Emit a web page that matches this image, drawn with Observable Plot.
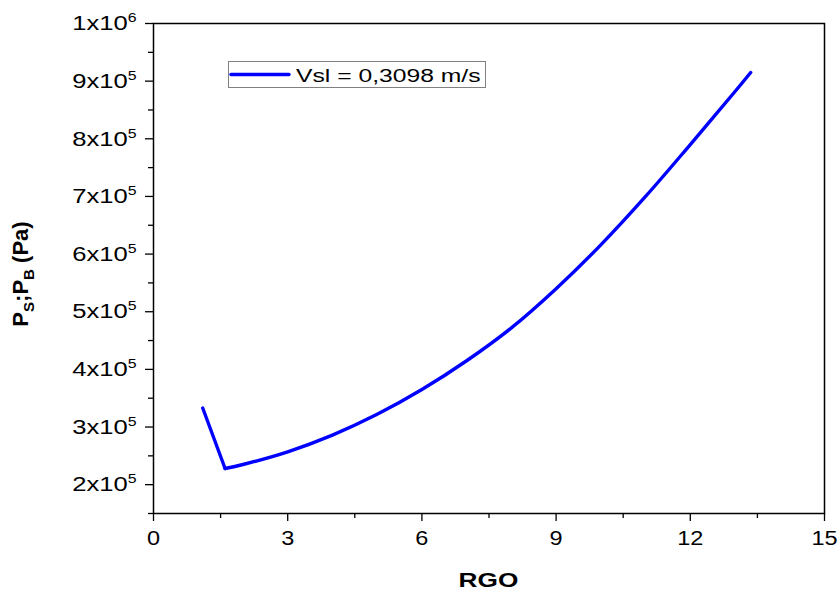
<!DOCTYPE html>
<html><head><meta charset="utf-8">
<script src="https://cdn.jsdelivr.net/npm/d3@7"></script>
<script src="https://cdn.jsdelivr.net/npm/@observablehq/plot@0.6"></script>
<style>
html,body{margin:0;padding:0;background:#fff;}
#chart{width:839px;height:592px;}
</style></head>
<body><div id="chart"></div>
<script>
// ---- data ----
const rgo      = [1.1, 1.6, 2, 3, 4, 5, 6, 7, 8, 9, 10, 11, 12, 13, 13.35];
const pressure = [333000, 228000, 235000, 257000, 286000, 322000, 365000, 415000, 472000, 540000, 616000, 700000, 790000, 882000, 915000];
const seriesLabel = "Vsl = 0,3098 m/s";
const xTicks = [0, 3, 6, 9, 12, 15];
const xMinorTicks = [1.5, 4.5, 7.5, 10.5, 13.5];
const yTicks = [200000, 300000, 400000, 500000, 600000, 700000, 800000, 900000, 1000000];
const yMinorTicks = [150000, 250000, 350000, 450000, 550000, 650000, 750000, 850000, 950000];
const xLabel = "RGO";
const yLabelParts = [["P", ""], ["S", "sub"], [";", ""], ["P", ""], ["B", "sub"], [" (Pa)", ""]];

// two branches so the kink at the minimum stays sharp
const rows = [];
rgo.forEach((x, i) => {
  if (i <= 1) rows.push({rgo: x, p: pressure[i], branch: "a"});
  if (i >= 1) rows.push({rgo: x, p: pressure[i], branch: "b"});
});

const sciFmt = d => {
  const e = Math.floor(Math.log10(d) + 1e-9);
  const m = Math.round(d / Math.pow(10, e));
  return `${m}x10^${e}`;
};

const FONT = '"Liberation Sans", Arial, Helvetica, sans-serif';

const plot = Plot.plot({
  width: 839, height: 592,
  marginLeft: 153, marginRight: 15, marginTop: 23, marginBottom: 79,
  x: {domain: [0, 15]},
  y: {domain: [150000, 1000000]},
  style: {fontFamily: FONT, fontSize: "21px", color: "black", background: "white", overflow: "visible"},
  marks: [
    Plot.axisX({ticks: xTicks, tickSize: 8, tickPadding: 9, label: null, strokeWidth: 1.3, fontSize: 21}),
    Plot.axisX({ticks: xMinorTicks, tickSize: 5, tickFormat: () => "", label: null, strokeWidth: 1.3}),
    Plot.axisY({ticks: yTicks, tickSize: 8, tickPadding: 9, tickFormat: sciFmt, label: null, strokeWidth: 1.3, fontSize: 21}),
    Plot.axisY({ticks: yMinorTicks, tickSize: 5, tickFormat: () => "", label: null, strokeWidth: 1.3}),
    Plot.frame({stroke: "black", strokeWidth: 1.5}),
    Plot.line(rows, {x: "rgo", y: "p", z: "branch", stroke: "#0000ff", strokeWidth: 3.4, curve: "catmull-rom", strokeLinecap: "round", strokeLinejoin: "round"})
  ]
});
document.getElementById("chart").appendChild(plot);

const svg = d3.select(plot);

function stretch(sel, sx) {
  sel.each(function() {
    const t = this.getAttribute("transform");
    if (t) {
      this.setAttribute("transform", t + ` scale(${sx},1)`);
    } else {
      const x = +(this.getAttribute("x") || 0), y = +(this.getAttribute("y") || 0);
      this.setAttribute("x", 0); this.setAttribute("y", 0);
      this.setAttribute("transform", `translate(${x},${y}) scale(${sx},1)`);
    }
  });
}

// superscripts on y tick labels
svg.selectAll('g[aria-label="y-axis tick label"] text').each(function() {
  const s = this.textContent;
  if (!s.includes("^")) return;
  const [base, exp] = s.split("^");
  const t = d3.select(this);
  t.text(null);
  t.append("tspan").text(base);
  t.append("tspan").attr("font-size", 13).attr("dy", -8).text(exp);
});
stretch(svg.selectAll('g[aria-label="y-axis tick label"] text'), 1.22);
stretch(svg.selectAll('g[aria-label="x-axis tick label"] text'), 1.12);

// x-axis title
svg.append("text")
  .attr("transform", "translate(488.5,587) scale(1.25,1)")
  .attr("text-anchor", "middle")
  .attr("font-weight", "bold").attr("font-size", 21)
  .attr("fill", "black")
  .text(xLabel);

// y-axis title
const yl = svg.append("text")
  .attr("transform", "translate(27.5,274) rotate(-90)")
  .attr("text-anchor", "middle")
  .attr("font-weight", "bold").attr("font-size", 22)
  .attr("fill", "black");
let shifted = false;
yLabelParts.forEach(([txt, kind]) => {
  const ts = yl.append("tspan").text(txt);
  if (kind === "sub") { ts.attr("font-size", 15).attr("dy", 6); shifted = true; }
  else if (shifted) { ts.attr("dy", -6); shifted = false; }
});

// legend
const lg = svg.append("g").attr("aria-label", "legend");
lg.append("rect").attr("x", 228.5).attr("y", 61.5).attr("width", 257).attr("height", 26)
  .attr("fill", "white").attr("stroke", "#808080").attr("stroke-width", 1);
lg.append("line").attr("x1", 231).attr("x2", 289).attr("y1", 74.5).attr("y2", 74.5)
  .attr("stroke", "#0000ff").attr("stroke-width", 3.4).attr("stroke-linecap", "round");
lg.append("text")
  .attr("transform", "translate(296,81.5) scale(1.3,1)")
  .attr("text-anchor", "start")
  .attr("font-size", 19).attr("fill", "black")
  .text(seriesLabel);
</script>
</body></html>
